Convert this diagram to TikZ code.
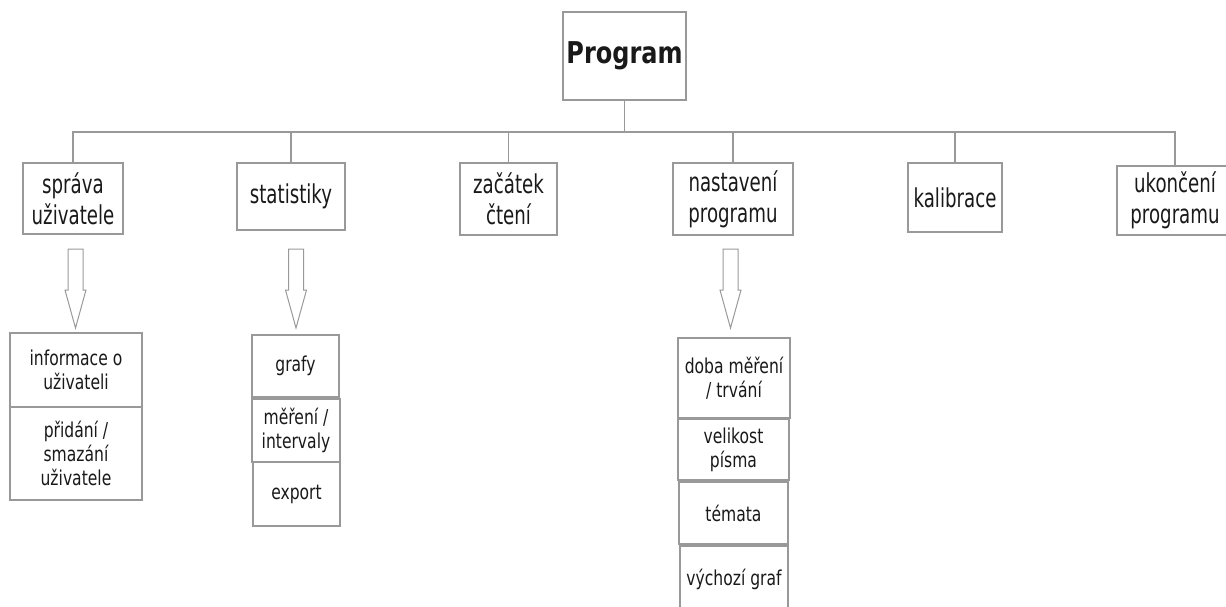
\documentclass[tikz,border=0pt]{standalone}
\usepackage{fontspec}
\setmainfont[FakeStretch=0.7]{DejaVu Sans}
\newfontfamily\titlefont[FakeStretch=0.8]{DejaVu Sans}
\newfontfamily\subfont[FakeStretch=0.76]{DejaVu Sans}
\definecolor{linegray}{gray}{0.6}
\tikzset{
	box/.style={draw=linegray, line width=1.2pt, inner sep=0pt, align=center,
		text=black!90, font=\fontsize{26}{31}\selectfont},
	subbox/.style={box, font=\subfont\fontsize{20.5}{24}\selectfont},
	link/.style={draw=linegray, line width=1.2pt},
}
% hollow block arrow, #1 = top centre of the shaft
\newcommand\hollowarrow[1]{
	\draw[link, line width=1pt] (#1) ++(-7.5,0) -- ++(0,41) -- ++(-3,0) -- ++(10.5,38)
		-- ++(10.5,-38) -- ++(-3,0) -- ++(0,-41) -- cycle;
}
\begin{document}
\begin{tikzpicture}[x=1pt, y=-1pt]
	\clip (0,0) rectangle (1226,606);
	\node[box, minimum width=123, minimum height=88, font=\titlefont\fontsize{30}{36}\selectfont\bfseries] (prog) at (624.5,56) {Program};
	\coordinate (bar) at (0,132);
	% first level
	\node[box, minimum width=100, minimum height=71] (sprava)    at (73,198.5)   {správa\\uživatele};
	\node[box, minimum width=108, minimum height=67] (stat)      at (291,196.5)  {statistiky};
	\node[box, minimum width=97,  minimum height=72] (zacatek)   at (508.5,199)  {začátek\\čtení};
	\node[box, minimum width=120, minimum height=72] (nastaveni) at (733,199)    {nastavení\\programu};
	\node[box, minimum width=94,  minimum height=69] (kalibrace) at (955,197.5)  {kalibrace};
	\node[box, minimum width=116, minimum height=69] (ukonceni)  at (1175,200.5) {ukončení\\programu};
	\foreach \n in {sprava,stat,zacatek,nastaveni,kalibrace,ukonceni}
		\draw[link] (prog.south) -- (prog.south |- bar) -| (\n.north);
	% arrows
	\coordinate (a1) at (75.5,249);
	\coordinate (a2) at (296,249);
	\coordinate (a3) at (730.5,249);
	\hollowarrow{a1}
	\hollowarrow{a2}
	\hollowarrow{a3}
	% second level
	\node[subbox, minimum width=132, minimum height=74] (info)     at (76,370)    {informace o\\uživateli};
	\node[subbox, minimum width=132, minimum height=93] (pridani)  at (76,453.5)  {přidání /\\smazání\\uživatele};
	\node[subbox, minimum width=87,  minimum height=62] (grafy)    at (295.5,366) {grafy};
	\node[subbox, minimum width=88,  minimum height=63] (mereni)   at (296,430.5) {měření /\\intervaly};
	\node[subbox, minimum width=87,  minimum height=64] (export)   at (296.5,494) {export};
	\node[subbox, minimum width=112, minimum height=80] (doba)     at (734,378)   {doba měření\\/ trvání};
	\node[subbox, minimum width=111, minimum height=61] (velikost) at (733.5,449.5) {velikost\\písma};
	\node[subbox, minimum width=109, minimum height=62] (temata)   at (733.5,513) {témata};
	\node[subbox, minimum width=108, minimum height=66] (vychozi)  at (734,579)   {výchozí graf};
\end{tikzpicture}
\end{document}
